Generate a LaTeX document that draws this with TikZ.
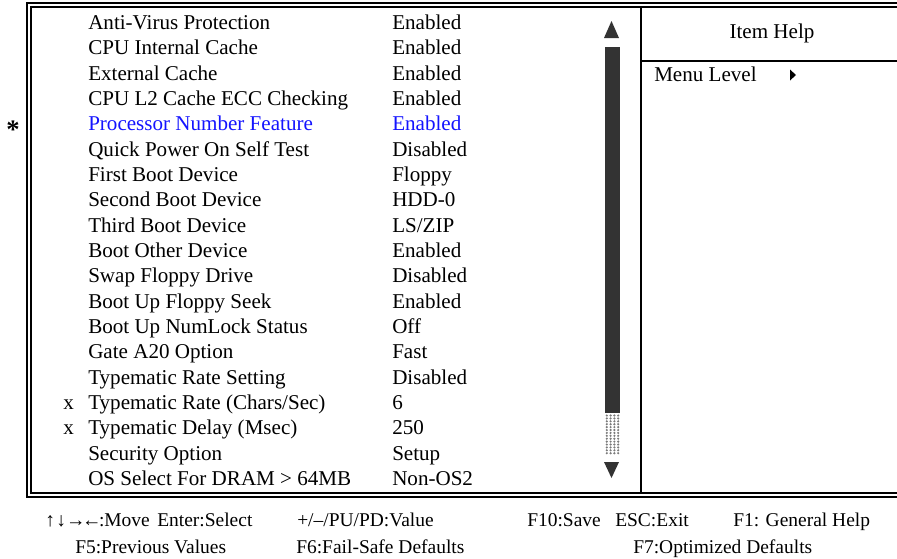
\documentclass[tikz,border=0pt]{standalone}
\usepackage{fontspec}
\setmainfont{Liberation Serif}
\definecolor{selblue}{HTML}{1414FF}
\definecolor{bardark}{HTML}{333333}
\definecolor{dotgray}{HTML}{7A7A7A}

\begin{document}
\begin{tikzpicture}[x=0.75pt,y=-0.75pt,
    txt/.style={anchor=base west,inner sep=0pt,font=\fontsize{15.8}{19}\selectfont},
    sel/.style={txt,color=selblue},
    foot/.style={txt,font=\fontsize{14.6}{17}\selectfont},
    frameline/.style={line width=1.5pt}]
  \useasboundingbox (0,0) rectangle (897,558);
  % double frame, open to the right
  \draw[frameline] (897,3) -- (27,3) -- (27,496.5) -- (897,496.5);
  \draw[frameline] (897,6.5) -- (30.5,6.5) -- (30.5,493) -- (897,493);
  % help panel
  \draw[frameline] (641,6.5) -- (641,493);
  \draw[frameline] (641,61) -- (897,61);
  \node[txt,anchor=base] (help) at (772,38.5) {Item Help};
  \node[txt] (menulvl) at (654,81.7) {Menu Level};
  \fill (790,69.5) -- (796,75) -- (790,80.5) -- cycle;
  % scroll bar
  \fill[bardark] (604,38) -- (619,38) -- (611.5,21) -- cycle;
  \fill[bardark] (605,47) rectangle (620,413);
  \foreach \dx in {0,1,2,3}
    \foreach \dy in {0,...,13}
      \fill[dotgray] (606.8+\dx*3.8,415.5+\dy*2.9) circle (1.2);
  \fill[bardark] (604,462) -- (619,462) -- (611.5,478) -- cycle;
  % setup items
  \node[txt] (lab1) at (88,29.5) {Anti-Virus Protection};       \node[txt] (val1) at (392,29.5) {Enabled};
  \node[txt] (lab2) at (88,54.8) {CPU Internal Cache};          \node[txt] (val2) at (392,54.8) {Enabled};
  \node[txt] (lab3) at (88,80.2) {External Cache};              \node[txt] (val3) at (392,80.2) {Enabled};
  \node[txt] (lab4) at (88,105.5) {CPU L2 Cache ECC Checking};  \node[txt] (val4) at (392,105.5) {Enabled};
  \node[sel] (lab5) at (88,130.8) {Processor Number Feature};   \node[sel] (val5) at (392,130.8) {Enabled};
  \node[txt] (lab6) at (88,156.2) {Quick Power On Self Test};   \node[txt] (val6) at (392,156.2) {Disabled};
  \node[txt] (lab7) at (88,181.5) {First Boot Device};          \node[txt] (val7) at (392,181.5) {Floppy};
  \node[txt] (lab8) at (88,206.8) {Second Boot Device};         \node[txt] (val8) at (392,206.8) {HDD-0};
  \node[txt] (lab9) at (88,232.1) {Third Boot Device};          \node[txt] (val9) at (392,232.1) {LS/ZIP};
  \node[txt] (lab10) at (88,257.5) {Boot Other Device};         \node[txt] (val10) at (392,257.5) {Enabled};
  \node[txt] (lab11) at (88,282.8) {Swap Floppy Drive};         \node[txt] (val11) at (392,282.8) {Disabled};
  \node[txt] (lab12) at (88,308.1) {Boot Up Floppy Seek};       \node[txt] (val12) at (392,308.1) {Enabled};
  \node[txt] (lab13) at (88,333.5) {Boot Up NumLock Status};    \node[txt] (val13) at (392,333.5) {Off};
  \node[txt] (lab14) at (88,358.8) {Gate A20 Option};           \node[txt] (val14) at (392,358.8) {Fast};
  \node[txt] (lab15) at (88,384.1) {Typematic Rate Setting};    \node[txt] (val15) at (392,384.1) {Disabled};
  \node[txt] (lab16) at (88,409.5) {Typematic Rate (Chars/Sec)}; \node[txt] (val16) at (392,409.5) {6};
  \node[txt] (lab17) at (88,434.8) {Typematic Delay (Msec)};    \node[txt] (val17) at (392,434.8) {250};
  \node[txt] (lab18) at (88,460.1) {Security Option};           \node[txt] (val18) at (392,460.1) {Setup};
  \node[txt] (lab19) at (88,485.4) {OS Select For DRAM > 64MB}; \node[txt] (val19) at (392,485.4) {Non-OS2};
  % markers
  \node[txt] (x16) at (63,409.5) {x};
  \node[txt] (x17) at (63,434.8) {x};
  \node[anchor=center,inner sep=0pt,font=\fontsize{20}{22}\selectfont\bfseries] (star) at (13,130) {*};
  % key help
  \node[foot] (kmove) at (45,526.5) {↑\kern1pt↓\kern0pt→\kern-2.5pt←\kern-2pt:Move};
  \node[foot] (kenter) at (157,526.5) {Enter:Select};
  \node[foot] (kvalue) at (297,526.5) {+/–/PU/PD:Value};
  \node[foot] (ksave) at (527,526.5) {F10:Save};
  \node[foot] (kexit) at (615,526.5) {ESC:Exit};
  \node[foot] (kgen) at (733,526.5) {F1: General Help};
  \node[foot] (kprev) at (75,553) {F5:Previous Values};
  \node[foot] (kfail) at (296,553) {F6:Fail-Safe Defaults};
  \node[foot] (kopt) at (633,553) {F7:Optimized Defaults};
\end{tikzpicture}
\end{document}
